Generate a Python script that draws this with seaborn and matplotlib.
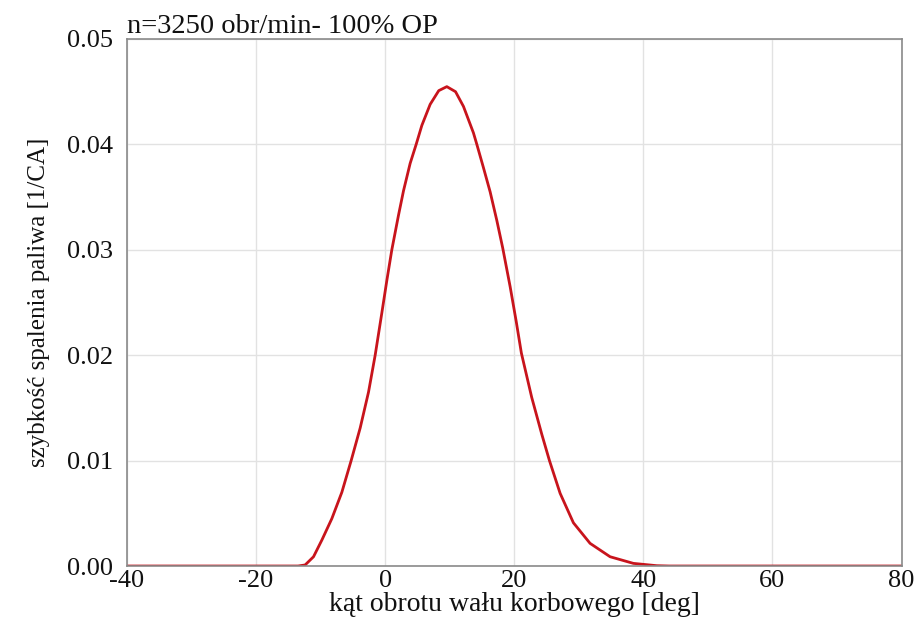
import matplotlib
matplotlib.use("Agg")
import matplotlib.pyplot as plt
import seaborn as sns
import pandas as pd

# crank angle [deg] and fuel burn rate [1/CA]
angle = [-40.0, -13.5, -12.4, -11.1, -9.8, -8.26, -6.71, -5.27, -3.87, -2.58,
         -1.55, -0.52, 0.26, 1.03, 2.07, 2.84, 3.87, 4.8, 5.68, 6.97, 8.3,
         9.55, 10.9, 12.13, 13.67, 14.2, 15.22, 16.26, 17.29, 18.2, 19.36,
         20.3, 21.1, 22.7, 24.26, 25.45, 27.1, 29.16, 31.74, 34.84, 38.45,
         42.07, 44.0, 80.0]
rate = [0.0, 0.0, 0.0001, 0.00088, 0.00247, 0.00450, 0.0070, 0.0100, 0.0131,
        0.0165, 0.0200, 0.0240, 0.0271, 0.0300, 0.0333, 0.0356, 0.0382, 0.0400,
        0.0418, 0.0438, 0.0451, 0.04548, 0.0450, 0.0436, 0.0411, 0.0400, 0.0378,
        0.0355, 0.0328, 0.0302, 0.0265, 0.0232, 0.0202, 0.0160, 0.0125, 0.0100,
        0.0069, 0.0041, 0.00215, 0.00088, 0.00025, 0.00003, 0.0, 0.0]

x_ticks = [-40, -20, 0, 20, 40, 60, 80]
y_ticks = [0.00, 0.01, 0.02, 0.03, 0.04, 0.05]

df = pd.DataFrame({"angle": angle, "rate": rate})

sns.set_theme(style="white")
plt.rcParams["font.family"] = ["Liberation Serif", "DejaVu Serif"]

fig = plt.figure(figsize=(9.2, 6.19), dpi=100)
ax = fig.add_axes([0.138, 0.0856, 0.842, 0.8514])

sns.lineplot(data=df, x="angle", y="rate", ax=ax, color="#c8141c", linewidth=2.0)
for ln in ax.get_lines():
    ln.set_solid_joinstyle("round")

ax.set_xlim(-40, 80)
ax.set_ylim(0, 0.05)
ax.set_xticks(x_ticks)
ax.set_xticklabels([str(v) for v in x_ticks])
ax.set_yticks(y_ticks)
ax.set_yticklabels([f"{v:.2f}" for v in y_ticks])
ax.tick_params(axis="both", labelsize=19, length=0, colors="#111111")
ax.tick_params(axis="y", pad=10)
ax.tick_params(axis="x", pad=3)
ax.grid(True, color="#e2e2e2", linewidth=1.0)
for side in ["left", "bottom", "top", "right"]:
    ax.spines[side].set_color("#8a8a8a")
    ax.spines[side].set_linewidth(1.2)

ax.set_xlabel("kąt obrotu wału korbowego [deg]", fontsize=20, labelpad=0, color="#111111")
ax.set_ylabel("szybkość spalenia paliwa [1/CA]", fontsize=18, labelpad=12, color="#111111")
ax.set_title("n=3250 obr/min- 100% OP", fontsize=20.5, loc="left", pad=4, color="#111111")

fig.savefig("out.png", dpi=100)
